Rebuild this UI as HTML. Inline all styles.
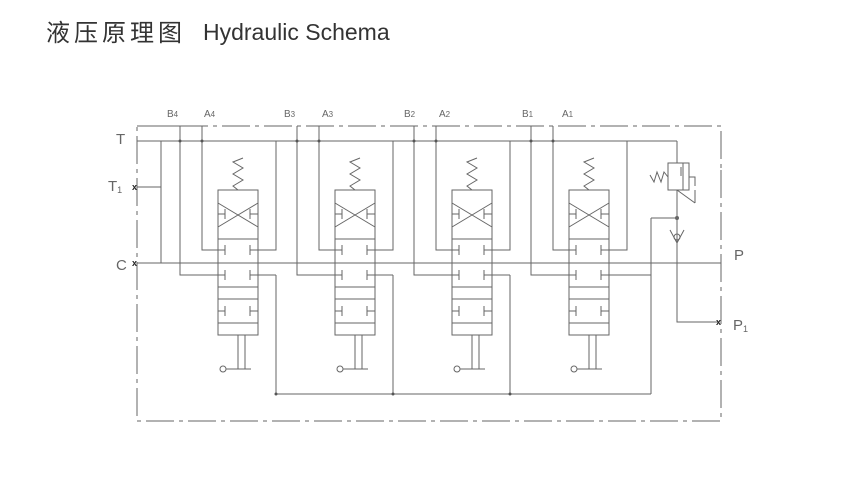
<!DOCTYPE html>
<html><head><meta charset="utf-8"><style>
html,body{margin:0;padding:0;background:#fff;width:846px;height:478px;overflow:hidden}
svg{display:block}
text{font-family:"Liberation Sans","Noto Sans CJK SC",sans-serif}
</style></head><body>
<svg width="846" height="478" viewBox="0 0 846 478" xmlns="http://www.w3.org/2000/svg">
<text x="46" y="41" font-size="24" letter-spacing="4" fill="#333">液压原理图</text>
<text x="203" y="40" font-size="23" fill="#333">Hydraulic Schema</text>
<g stroke="#666" stroke-width="1" fill="none">
<!-- frame -->
<path d="M137 126 H180" />
<path d="M180 126 H721 V170" stroke-dasharray="28,5,4,5"/>
<path d="M721 170 V421 H137 V126" stroke-dasharray="28,5,4,5"/>
<!-- T line & C line -->
<path d="M137 141 H677"/>
<path d="M137 263 H721"/>
<path d="M161 141 V263 M137 187 H161"/>
<!-- bottom collector -->
<path d="M276 394 H651"/>
<path d="M276 275 V394 M393 275 V394 M510 275 V394"/>
<path d="M651 218 V394 M651 275 H609 M651 218 H677"/>
<!-- relief -->
<path d="M677 141 V163"/>
<rect x="668" y="163" width="21" height="27"/>
<path d="M683 163 V190 M681 167 V176"/>
<path d="M689 177 H695 V186 M677 190 L695 203 M695 190 V203"/>
<path d="M668 177 L664 172 L661 182 L657 172 L654 182 L650 175"/>
<path d="M677 190 V322 H718"/>
<path d="M670 230 L677 243 L684 230"/>
<circle cx="677" cy="237" r="3"/>
</g>
<circle cx="677" cy="218" r="2" fill="#666"/>
<circle cx="276" cy="394" r="1.5" fill="#555"/>
<circle cx="393" cy="394" r="1.5" fill="#555"/>
<circle cx="510" cy="394" r="1.5" fill="#555"/>
<g id="sec">
<g stroke="#666" stroke-width="1" fill="none">
<path d="M180 126 V275 H218"/>
<path d="M202 126 V250 H218"/>
<path d="M276 141 V250 H258"/>
<path d="M258 275 H276"/>
<rect x="218" y="190" width="40" height="145"/>
<path d="M218 239 H258 M218 287 H258 M218 299 H258 M218 323 H258"/>
<path d="M218 203 L258 227 M258 203 L218 227"/>
<path d="M218 214 H225 M225 209 V219 M258 214 H250 M250 209 V219"/>
<path d="M218 250 H225 M225 245 V255 M258 250 H250 M250 245 V255"/>
<path d="M218 275 H225 M225 270 V280 M258 275 H250 M250 270 V280"/>
<path d="M218 311 H225 M225 306 V316 M258 311 H250 M250 306 V316"/>
<path d="M238 190 L233 186 L243 180 L233 174 L243 168 L233 162 L243 158"/>
<path d="M238 335 V369 M245 335 V369 M226 369 H251"/>
<circle cx="223" cy="369" r="3"/>
</g>
<circle cx="180" cy="141" r="1.5" fill="#555"/>
<circle cx="202" cy="141" r="1.5" fill="#555"/>
</g>
<use href="#sec" x="117"/>
<use href="#sec" x="234"/>
<use href="#sec" x="351"/>
<g font-size="15" fill="#666">
<text x="116" y="144">T</text>
<text x="116" y="270">C</text>
<text x="734" y="260">P</text>
<text x="108" y="191">T<tspan font-size="9" dy="2">1</tspan></text>
<text x="733" y="330">P<tspan font-size="9" dy="2">1</tspan></text>
</g>
<g font-size="10" fill="#666">
<text x="167" y="117">B<tspan font-size="8">4</tspan></text>
<text x="204" y="117">A<tspan font-size="8">4</tspan></text>
<text x="284" y="117">B<tspan font-size="8">3</tspan></text>
<text x="322" y="117">A<tspan font-size="8">3</tspan></text>
<text x="404" y="117">B<tspan font-size="8">2</tspan></text>
<text x="439" y="117">A<tspan font-size="8">2</tspan></text>
<text x="522" y="117">B<tspan font-size="8">1</tspan></text>
<text x="562" y="117">A<tspan font-size="8">1</tspan></text>
</g>
<g font-size="9" font-weight="bold" fill="#222">
<text x="132" y="190">x</text>
<text x="132" y="266">x</text>
<text x="716" y="325">x</text>
</g>
</svg>
</body></html>
